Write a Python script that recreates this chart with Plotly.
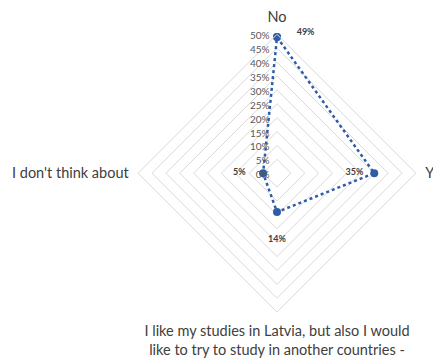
import plotly.graph_objects as go

categories = ["No", "Yes",
              "I like my studies in Latvia, but also I would<br>like to try to study in another countries -",
              "I don't think about"]
values = [49, 35, 14, 5]
nb = "\u00a0"
value_labels = [nb * 9 + "49%", "35%" + nb * 5, nb + "<br>" + nb + "<br>14%", "5%" + nb * 8]
label_positions = ["top right", "middle left", "bottom center", "middle left"]
radial_ticks = list(range(0, 51, 5))
radial_tick_labels = [f"{v}%" for v in radial_ticks]

blue = "#2F5CA8"
grid = "#D9D9D9"

fig = go.Figure()
fig.add_trace(go.Scatterpolar(
    r=values + values[:1],
    theta=categories + categories[:1],
    mode="lines+markers",
    line=dict(color=blue, width=2.5, dash="dot"),
    marker=dict(color=blue, size=8),
    hoverinfo="skip",
    showlegend=False,
))
fig.add_trace(go.Scatterpolar(
    r=values,
    theta=categories,
    mode="text",
    text=value_labels,
    textposition=label_positions,
    textfont=dict(family="Lato", size=9, color="#404040", weight="bold"),
    showlegend=False,
))

fig.update_layout(
    width=441, height=358,
    margin=dict(l=0, r=0, t=0, b=0),
    paper_bgcolor="white",
    font=dict(family="Lato", color="#404040"),
    polar=dict(
        domain=dict(x=[0.295, 0.925], y=[0.150, 0.927]),
        bgcolor="white",
        gridshape="linear",
        radialaxis=dict(
            range=[0, 50],
            tickvals=radial_ticks,
            ticktext=radial_tick_labels,
            angle=90,
            side="counterclockwise",
            showline=False,
            ticks="",
            gridcolor=grid,
            gridwidth=1,
            tickfont=dict(size=10, color="#595959"),
        ),
        angularaxis=dict(
            rotation=90,
            direction="clockwise",
            showgrid=False,
            showline=True,
            linecolor=grid,
            linewidth=1,
            ticks="outside",
            ticklen=6,
            tickcolor="rgba(0,0,0,0)",
            tickfont=dict(size=14.5, color="#404040"),
        ),
    ),
)

fig.write_html("out.html")
